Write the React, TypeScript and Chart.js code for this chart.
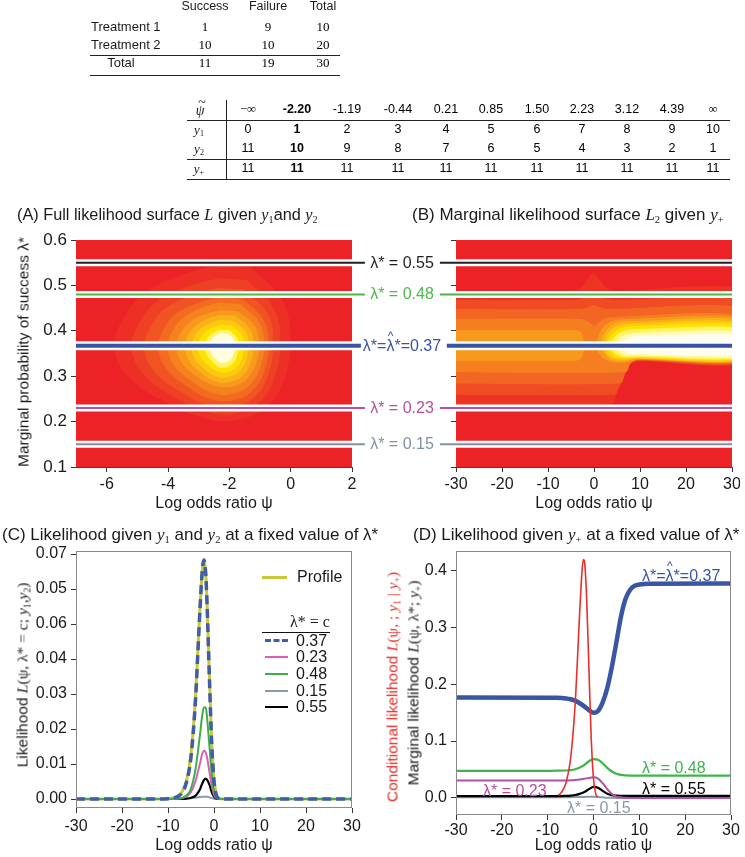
import React, { useEffect, useRef } from 'react';
import { Chart, registerables } from 'chart.js';

Chart.register(...registerables);

const SANS = '"Liberation Sans", Arial, Helvetica, sans-serif';
const SERIF = '"Liberation Serif", "DejaVu Serif", "Times New Roman", serif';
const INK = '#1a1a1a';

type Pt = [number, number];

/* ---------------- tables ---------------- */
const T1_HEADERS = ['Success', 'Failure', 'Total'];
const T1_ROW_LABELS = ['Treatment 1', 'Treatment 2', 'Total'];
const T1_ROW_1 = [1, 9, 10];
const T1_ROW_2 = [10, 10, 20];
const T1_ROW_TOTAL = [11, 19, 30];

const T2_PSI = ['\u2212\u221E', '-2.20', '-1.19', '-0.44', '0.21', '0.85', '1.50', '2.23', '3.12', '4.39', '\u221E'];
const T2_Y1 = [0, 1, 2, 3, 4, 5, 6, 7, 8, 9, 10];
const T2_Y2 = [11, 10, 9, 8, 7, 6, 5, 4, 3, 2, 1];
const T2_YPLUS = [11, 11, 11, 11, 11, 11, 11, 11, 11, 11, 11];
const T2_BOLD_INDEX = 1;

/* ---------------- panels A & B ---------------- */
const A_X_TICKS = [-6, -4, -2, 0, 2];
const A_X_LABELS = ['-6', '-4', '-2', '0', '2'];
const PSI_TICKS = [-30, -20, -10, 0, 10, 20, 30];
const PSI_LABELS = ['-30', '-20', '-10', '0', '10', '20', '30'];
const LAMBDA_TICKS = [0.1, 0.2, 0.3, 0.4, 0.5, 0.6];
const LAMBDA_TICK_LABELS = ['0.1', '0.2', '0.3', '0.4', '0.5', '0.6'];
const LAMBDA_VALUES = [0.55, 0.48, 0.367, 0.23, 0.15];
const LAMBDA_TEXT = ['0.55', '0.48', '0.37', '0.23', '0.15'];
const LAMBDA_COLORS = ['#231F20', '#4DB848', '#3A53A4', '#B5509E', '#8090A6'];

// contour regions of the full likelihood surface (psi, lambda*)
const A_BACKGROUND: Pt[] = [[-8, 0.05], [3, 0.05], [3, 0.65], [-8, 0.65]];
const A_CONTOUR_1: Pt[] = [[-1.3, 0.54], [-0.29, 0.468], [-0.02, 0.387], [-0.19, 0.3], [-0.75, 0.235], [-1.7, 0.205], [-2.8, 0.208], [-4.2, 0.248], [-5.3, 0.3], [-5.73, 0.36], [-5.5, 0.42], [-4.75, 0.483], [-3.35, 0.527], [-2.25, 0.545]];
const A_CONTOUR_2: Pt[] = [[-1.44, 0.512], [-0.58, 0.451], [-0.35, 0.383], [-0.5, 0.306], [-0.97, 0.247], [-1.78, 0.219], [-2.71, 0.222], [-3.89, 0.258], [-4.81, 0.306], [-5.17, 0.36], [-4.98, 0.411], [-4.35, 0.464], [-3.17, 0.501], [-2.25, 0.516]];
const A_CONTOUR_3: Pt[] = [[-1.54, 0.491], [-0.78, 0.439], [-0.58, 0.381], [-0.71, 0.312], [-1.13, 0.258], [-1.84, 0.234], [-2.65, 0.236], [-3.65, 0.269], [-4.45, 0.312], [-4.76, 0.361], [-4.59, 0.404], [-4.05, 0.45], [-3.04, 0.481], [-2.25, 0.494]];
const A_CONTOUR_4: Pt[] = [[-1.6, 0.471], [-0.92, 0.427], [-0.73, 0.378], [-0.85, 0.317], [-1.23, 0.27], [-1.88, 0.248], [-2.58, 0.25], [-3.4, 0.279], [-4.05, 0.317], [-4.3, 0.361], [-4.17, 0.398], [-3.73, 0.437], [-2.9, 0.463], [-2.25, 0.474]];
const A_CONTOUR_5: Pt[] = [[-1.67, 0.459], [-1.05, 0.42], [-0.89, 0.376], [-0.99, 0.323], [-1.34, 0.281], [-1.91, 0.262], [-2.53, 0.264], [-3.23, 0.29], [-3.78, 0.323], [-3.99, 0.361], [-3.88, 0.394], [-3.5, 0.428], [-2.8, 0.452], [-2.25, 0.462]];
const A_CONTOUR_6: Pt[] = [[-1.74, 0.443], [-1.19, 0.411], [-1.05, 0.374], [-1.14, 0.329], [-1.44, 0.294], [-1.95, 0.278], [-2.48, 0.28], [-3.07, 0.301], [-3.53, 0.329], [-3.71, 0.362], [-3.62, 0.389], [-3.3, 0.418], [-2.71, 0.437], [-2.25, 0.445]];
const A_CONTOUR_7: Pt[] = [[-1.81, 0.433], [-1.35, 0.405], [-1.22, 0.373], [-1.3, 0.333], [-1.56, 0.302], [-2.0, 0.288], [-2.44, 0.289], [-2.91, 0.308], [-3.29, 0.333], [-3.43, 0.362], [-3.36, 0.386], [-3.1, 0.41], [-2.62, 0.428], [-2.25, 0.435]];
const A_CONTOUR_8: Pt[] = [[-1.88, 0.422], [-1.49, 0.398], [-1.38, 0.372], [-1.45, 0.338], [-1.67, 0.311], [-2.04, 0.299], [-2.4, 0.3], [-2.8, 0.316], [-3.1, 0.338], [-3.22, 0.362], [-3.16, 0.382], [-2.95, 0.403], [-2.56, 0.418], [-2.25, 0.424]];
const A_CONTOUR_9: Pt[] = [[-1.95, 0.412], [-1.62, 0.392], [-1.54, 0.37], [-1.59, 0.342], [-1.77, 0.32], [-2.07, 0.31], [-2.37, 0.311], [-2.68, 0.325], [-2.92, 0.342], [-3.02, 0.363], [-2.97, 0.379], [-2.8, 0.396], [-2.49, 0.408], [-2.25, 0.413]];
const A_CONTOUR_10: Pt[] = [[-2.02, 0.401], [-1.78, 0.386], [-1.72, 0.369], [-1.76, 0.346], [-1.89, 0.329], [-2.12, 0.32], [-2.34, 0.321], [-2.55, 0.332], [-2.72, 0.346], [-2.79, 0.363], [-2.75, 0.376], [-2.64, 0.389], [-2.42, 0.398], [-2.25, 0.402]];
const A_CONTOUR_11: Pt[] = [[-2.07, 0.394], [-1.88, 0.382], [-1.83, 0.368], [-1.86, 0.351], [-1.97, 0.337], [-2.15, 0.331], [-2.31, 0.331], [-2.47, 0.34], [-2.59, 0.351], [-2.63, 0.364], [-2.61, 0.374], [-2.53, 0.384], [-2.37, 0.392], [-2.25, 0.395]];
const A_CONTOURS = [A_BACKGROUND, A_CONTOUR_1, A_CONTOUR_2, A_CONTOUR_3, A_CONTOUR_4, A_CONTOUR_5, A_CONTOUR_6, A_CONTOUR_7, A_CONTOUR_8, A_CONTOUR_9, A_CONTOUR_10, A_CONTOUR_11];
const A_COLORS = ['#EC2227', '#ED2F25', '#EF3F24', '#F15323', '#F36A21', '#F5821F', '#F8991C', '#FAB017', '#FDC90F', '#FFE300', '#FFF466', '#FFFCE0'];

// contour regions of the marginal likelihood surface (psi, lambda*)
const B_BACKGROUND: Pt[] = [[-35, 0.05], [35, 0.05], [35, 0.65], [-35, 0.65]];
const B_BAND_1: Pt[] = [[-33, 0.487], [-4.6, 0.487], [-2.5, 0.497], [-1.3, 0.515], [-0.2, 0.527], [1, 0.515], [2.3, 0.497], [4.1, 0.487], [33, 0.487], [33, 0.333], [9.5, 0.334], [7.8, 0.326], [6.5, 0.3], [5, 0.265], [3.5, 0.237], [-33, 0.237]];
const B_BAND_2: Pt[] = [[-33, 0.467], [-4, 0.467], [-2, 0.473], [-0.3, 0.487], [1.5, 0.475], [4, 0.467], [33, 0.467], [33, 0.334], [9.5, 0.335], [7.8, 0.327], [6.5, 0.301], [5, 0.268], [4.6, 0.26], [-33, 0.26]];
const B_BAND_3: Pt[] = [[-33, 0.447], [-3, 0.447], [-1, 0.452], [0, 0.456], [1, 0.452], [3, 0.447], [33, 0.447], [33, 0.335], [9.5, 0.336], [7.8, 0.328], [6.5, 0.302], [5.8, 0.285], [-33, 0.285]];
const B_BAND_4: Pt[] = [[-33, 0.425], [-3, 0.425], [-1, 0.418], [0, 0.41], [1, 0.418], [3, 0.428], [33, 0.43], [33, 0.336], [9.5, 0.337], [7.8, 0.329], [6.9, 0.31], [-33, 0.31]];
const B_BAND_5_LEFT: Pt[] = [[-33, 0.4], [-4, 0.4], [-2.8, 0.395], [-2.2, 0.37], [-2.8, 0.34], [-4, 0.335], [-33, 0.335]];
const B_BAND_5_RIGHT: Pt[] = [[0.6, 0.37], [1.2, 0.393], [2.5, 0.412], [4.5, 0.422], [7, 0.425], [33, 0.425], [33, 0.337], [9.5, 0.338], [7, 0.331], [4, 0.332], [2, 0.34], [1, 0.352]];
const B_BAND_6: Pt[] = [[1.5, 0.37], [2.2, 0.392], [3.6, 0.41], [5.5, 0.418], [8, 0.42], [33, 0.42], [33, 0.338], [9.5, 0.339], [6, 0.334], [3.5, 0.338], [2.2, 0.35]];
const B_BAND_7: Pt[] = [[2.2, 0.37], [2.9, 0.39], [4.3, 0.406], [6.2, 0.413], [8.5, 0.415], [33, 0.415], [33, 0.339], [9.5, 0.34], [6, 0.337], [3.8, 0.342], [2.7, 0.353]];
const B_BAND_8: Pt[] = [[2.9, 0.37], [3.6, 0.388], [5, 0.401], [7, 0.408], [9, 0.41], [33, 0.41], [33, 0.341], [9.5, 0.342], [6.2, 0.34], [4.3, 0.345], [3.3, 0.355]];
const B_BAND_9: Pt[] = [[3.7, 0.37], [4.4, 0.385], [5.8, 0.396], [7.8, 0.402], [10, 0.403], [33, 0.403], [33, 0.343], [9.5, 0.344], [6.8, 0.343], [5, 0.348], [4, 0.357]];
const B_BAND_10: Pt[] = [[4.7, 0.37], [5.4, 0.381], [6.8, 0.39], [9, 0.394], [11, 0.395], [33, 0.395], [33, 0.346], [9.5, 0.347], [6.8, 0.347], [5.3, 0.355]];
const B_BAND_11: Pt[] = [[6, 0.368], [6.8, 0.379], [8.3, 0.386], [10.5, 0.388], [33, 0.388], [33, 0.35], [10, 0.35], [7.6, 0.352], [6.5, 0.358]];
const B_BANDS = [B_BACKGROUND, B_BAND_1, B_BAND_2, B_BAND_3, B_BAND_4, B_BAND_5_LEFT, B_BAND_5_RIGHT, B_BAND_6, B_BAND_7, B_BAND_8, B_BAND_9, B_BAND_10, B_BAND_11];
const B_COLORS = ['#EC2227', '#ED3324', '#F04B23', '#F26522', '#F57E20', '#F8981C', '#F8981C', '#FAB017', '#FDC90F', '#FFE300', '#FFF466', '#FFFAB8', '#FFFEF0'];

/* ---------------- panel C ---------------- */
const C_PSI = [-30, -12, -10, -9, -8, -7, -6, -5, -4, -3.5, -3, -2.6, -2.2, -1.8, -1.5, -1, -0.5, 0, 0.5, 1, 1.5, 2, 30];
const C_PROFILE = [0, 0.00002, 0.0001, 0.00027, 0.0007, 0.0019, 0.0051, 0.0128, 0.0296, 0.0428, 0.0558, 0.0645, 0.0683, 0.0645, 0.0556, 0.0352, 0.0165, 0.0056, 0.0013, 0.00025, 0.00004, 0, 0];
const C_L037 = [0, 0.00001, 0.00009, 0.00024, 0.00064, 0.0017, 0.0047, 0.012, 0.0287, 0.042, 0.0553, 0.0643, 0.0683, 0.0643, 0.0553, 0.0345, 0.0158, 0.0051, 0.0011, 0.0002, 0.00003, 0, 0];
const C_L023 = [0, 0, 0.00001, 0.00004, 0.0001, 0.00028, 0.00075, 0.002, 0.0052, 0.0078, 0.0104, 0.0127, 0.0138, 0.0133, 0.0118, 0.0079, 0.0039, 0.0012, 0.0003, 0.00006, 0, 0, 0];
const C_L048 = [0, 0, 0.00001, 0.00003, 0.0001, 0.0003, 0.001, 0.003, 0.0087, 0.0135, 0.0189, 0.0235, 0.0261, 0.0262, 0.0232, 0.0152, 0.0072, 0.0023, 0.0005, 0.0001, 0, 0, 0];
const C_L015 = [0, 0, 0, 0, 0.00001, 0.00003, 0.00008, 0.0002, 0.00038, 0.00048, 0.00058, 0.00065, 0.00068, 0.00067, 0.00062, 0.00046, 0.00025, 0.0001, 0.00002, 0, 0, 0, 0];
const C_L055 = [0, 0, 0, 0, 0.00001, 0.00004, 0.00012, 0.00035, 0.00095, 0.0018, 0.0029, 0.0043, 0.0054, 0.0058, 0.0055, 0.0041, 0.002, 0.00066, 0.00015, 0.00003, 0, 0, 0];
const C_Y_TICKS = [0, 0.01, 0.02, 0.03, 0.04, 0.05, 0.06, 0.07];
const C_Y_TICK_LABELS = ['0.00', '0.01', '0.02', '0.03', '0.04', '0.06', '0.05', '0.07'];
const C_LEGEND_LAMBDAS = ['0.37', '0.23', '0.48', '0.15', '0.55'];

/* ---------------- panel D ---------------- */
const D_PSI = [-30, -10, -8, -6, -5, -4, -3, -2, -1, 0, 1, 2, 3, 4, 5, 6, 7, 8, 9, 10, 12, 30];
const D_L037 = [0.1764, 0.1763, 0.176, 0.1748, 0.1735, 0.171, 0.1665, 0.161, 0.1545, 0.1497, 0.153, 0.168, 0.193, 0.23, 0.274, 0.319, 0.35, 0.366, 0.373, 0.375, 0.3765, 0.377];
const D_L048 = [0.0478, 0.0478, 0.0479, 0.0483, 0.049, 0.0505, 0.0535, 0.058, 0.0645, 0.0684, 0.067, 0.061, 0.053, 0.0465, 0.0425, 0.0405, 0.0397, 0.0394, 0.0393, 0.0392, 0.0392, 0.0392];
const D_L023 = [0.0307, 0.0307, 0.0307, 0.0309, 0.0311, 0.0316, 0.0325, 0.0338, 0.0353, 0.0363, 0.034, 0.026, 0.0155, 0.007, 0.0025, 0.0008, 0.0002, 0, 0, 0, 0, 0];
const D_L055 = [0.0031, 0.0031, 0.0032, 0.0036, 0.0042, 0.0052, 0.0072, 0.0105, 0.0155, 0.0196, 0.018, 0.0125, 0.0075, 0.005, 0.0042, 0.0039, 0.0038, 0.0037, 0.0037, 0.0037, 0.0037, 0.0037];
const D_L015 = [0.0013, 0.0013, 0.0013, 0.0014, 0.0015, 0.0016, 0.0017, 0.0019, 0.002, 0.00215, 0.0018, 0.0011, 0.0005, 0.0002, 0.00005, 0, 0, 0, 0, 0, 0, 0];
const D_COND_PSI = [-7.6, -7, -6, -5, -4, -3, -2.5, -2.2, -2, -1.5, -1, -0.5, 0, 0.5, 0.9];
const D_COND = [0.005, 0.0099, 0.0265, 0.069, 0.1655, 0.328, 0.399, 0.419, 0.417, 0.352, 0.227, 0.1055, 0.0338, 0.0073, 0.002];
const D_Y_TICKS = [0, 0.1, 0.2, 0.3, 0.4];
const D_Y_TICK_LABELS = ['0.0', '0.1', '0.2', '0.3', '0.4'];

/* ---------------- helpers ---------------- */
const toXY = (xs: number[], ys: number[]) => xs.map((x, i) => ({ x, y: ys[i] }));
const ptsXY = (pts: Pt[]) => pts.map((p) => ({ x: p[0], y: p[1] }));

function axis(o: any) {
  return {
    type: 'linear',
    min: o.min,
    max: o.max,
    afterBuildTicks: (s: any) => {
      s.ticks = o.ticks.map((v: number) => ({ value: v }));
    },
    afterFit: (s: any) => {
      if (o.isX) s.height = o.size;
      else s.width = o.size;
      s.paddingLeft = 0;
      s.paddingRight = 0;
      s.paddingTop = 0;
      s.paddingBottom = 0;
    },
    ticks: {
      callback: (_v: any, i: number) => (o.labels ? o.labels[i] : ''),
      font: { family: SANS, size: o.font || 16 },
      color: INK,
      padding: o.pad,
      maxRotation: 0,
      minRotation: 0,
      autoSkip: false,
    },
    grid: { display: true, drawOnChartArea: false, drawTicks: true, tickLength: 5, color: '#333', lineWidth: 1 },
    border: { display: !!o.border, color: '#444', width: 1 },
    title: o.title
      ? { display: true, text: o.title, font: { family: SANS, size: 16 }, color: INK, padding: { top: 0, bottom: o.titlePad || 0 } }
      : { display: false },
  };
}

const framePlugin = {
  id: 'frame',
  afterDraw(chart: any) {
    const a = chart.chartArea;
    const ctx = chart.ctx;
    ctx.save();
    ctx.strokeStyle = '#8a8a8a';
    ctx.lineWidth = 1;
    ctx.strokeRect(Math.round(a.left) + 0.5, Math.round(a.top) + 0.5, Math.round(a.right - a.left) - 1, Math.round(a.bottom - a.top) - 1);
    ctx.restore();
  },
};

function baseOptions(pad: any, scales: any) {
  return {
    animation: false,
    responsive: false,
    events: [],
    layout: { padding: pad },
    plugins: { legend: { display: false }, tooltip: { enabled: false }, title: { display: false } },
    scales,
  };
}

function polyDataset(pts: Pt[], color: string, order: number, tension: number) {
  return {
    data: ptsXY(pts),
    fill: 'shape',
    backgroundColor: color,
    borderColor: color,
    borderWidth: 1,
    pointRadius: 0,
    tension,
    order,
  };
}

function lambdaLines(xFrom: number, xTo: number, xStart: number[], xEnd: number[]) {
  const out: any[] = [];
  LAMBDA_VALUES.forEach((lam, i) => {
    const blue = i === 2;
    out.push({
      data: [{ x: xFrom, y: lam }, { x: xTo, y: lam }],
      borderColor: '#ffffff',
      borderWidth: blue ? 9 : 7,
      pointRadius: 0,
      fill: false,
      order: -1,
    });
    out.push({
      data: [{ x: xStart[i], y: lam }, { x: xEnd[i], y: lam }],
      borderColor: LAMBDA_COLORS[i],
      borderWidth: blue ? 4 : 2,
      pointRadius: 0,
      fill: false,
      order: -2,
      clip: false,
    });
  });
  return out;
}

function makeA() {
  const datasets: any[] = A_CONTOURS.map((pts, k) => polyDataset(pts, A_COLORS[k], 100 - k, k === 0 ? 0 : 0.4));
  datasets.push(...lambdaLines(-7, 2, [-7, -7, -7, -7, -7], [2.42, 2.42, 2.29, 2.42, 2.42]));
  return {
    type: 'line',
    data: { datasets },
    options: baseOptions({ left: 0, right: 23, top: 10, bottom: 0 }, {
      x: axis({ min: -7, max: 2, ticks: A_X_TICKS, labels: A_X_LABELS, size: 46, isX: true, pad: 3, font: 16, title: 'Log odds ratio \u03C8', border: true }),
      y: axis({ min: 0.1, max: 0.6, ticks: LAMBDA_TICKS, labels: LAMBDA_TICK_LABELS, size: 46, isX: false, pad: 4, font: 17, border: true }),
    }),
  };
}

function makeB() {
  const datasets: any[] = B_BANDS.map((pts, k) => polyDataset(pts, B_COLORS[k], 100 - k, k === 0 ? 0 : 0.25));
  datasets.push(...lambdaLines(-30, 30, [-33.5, -33.5, -32, -33.5, -33.5], [30, 30, 30, 30, 30]));
  return {
    type: 'line',
    data: { datasets },
    options: baseOptions({ left: 0, right: 8, top: 10, bottom: 0 }, {
      x: axis({ min: -30, max: 30, ticks: PSI_TICKS, labels: PSI_LABELS, size: 46, isX: true, pad: 3, font: 16, title: 'Log odds ratio \u03C8', border: true }),
      y: axis({ min: 0.1, max: 0.6, ticks: LAMBDA_TICKS, labels: null, size: 20, isX: false, pad: 0, font: 16, border: true }),
    }),
  };
}

function curve(xs: number[], ys: number[], color: string, width: number, order: number, extra: any = {}) {
  return {
    data: toXY(xs, ys),
    borderColor: color,
    borderWidth: width,
    pointRadius: 0,
    fill: false,
    cubicInterpolationMode: 'monotone',
    order,
    ...extra,
  };
}

function makeC() {
  const datasets = [
    curve(C_PSI, C_PROFILE, '#C9C83A', 3, 6),
    curve(C_PSI, C_L015, '#8C9AAE', 2, 5),
    curve(C_PSI, C_L055, '#000000', 2.2, 4),
    curve(C_PSI, C_L023, '#D85FB6', 2, 3),
    curve(C_PSI, C_L048, '#3DAE4A', 2, 2),
    curve(C_PSI, C_L037, '#3F5DAB', 3.5, 1, { borderDash: [9, 5] }),
  ];
  return {
    type: 'line',
    data: { datasets },
    options: baseOptions({ left: 0, right: 13, top: 11, bottom: 0 }, {
      x: axis({ min: -30, max: 30, ticks: PSI_TICKS, labels: PSI_LABELS, size: 49, isX: true, pad: 4, font: 16, title: 'Log odds ratio \u03C8', titlePad: 2 }),
      y: axis({ min: -0.00257, max: 0.07086, ticks: C_Y_TICKS, labels: C_Y_TICK_LABELS, size: 56, isX: false, pad: 4, font: 16 }),
    }),
    plugins: [framePlugin],
  };
}

function makeD() {
  const datasets = [
    curve(D_PSI, D_L015, '#8A98AC', 2, 6),
    curve(D_PSI, D_L055, '#000000', 2.2, 5),
    curve(D_PSI, D_L023, '#B34FA6', 2, 4),
    curve(D_PSI, D_L048, '#3DB54A', 2.2, 3),
    curve(D_PSI, D_L037, '#3A55A4', 4.5, 2),
    curve(D_COND_PSI, D_COND, '#E8302A', 1.6, 1),
  ];
  return {
    type: 'line',
    data: { datasets },
    options: baseOptions({ left: 0, right: 14, top: 11, bottom: 0 }, {
      x: axis({ min: -30, max: 30, ticks: PSI_TICKS, labels: PSI_LABELS, size: 42, isX: true, pad: 1, font: 16, title: 'Log odds ratio \u03C8', titlePad: 2 }),
      y: axis({ min: -0.0299, max: 0.434, ticks: D_Y_TICKS, labels: D_Y_TICK_LABELS, size: 40, isX: false, pad: 4, font: 16 }),
    }),
    plugins: [framePlugin],
  };
}

/* ---------------- React pieces ---------------- */
function ChartBox({ x, y, w, h, make }: { x: number; y: number; w: number; h: number; make: () => any }) {
  const ref = useRef<HTMLCanvasElement>(null);
  useEffect(() => {
    const chart = new Chart(ref.current as HTMLCanvasElement, make() as any);
    return () => chart.destroy();
  }, []);
  return <canvas ref={ref} width={w} height={h} style={{ position: 'absolute', left: x, top: y, width: w, height: h }} />;
}

function Txt({ x, y, anchor = 'middle', rotate = false, style = {}, children }: any) {
  const tx = anchor === 'start' ? '0' : anchor === 'end' ? '-100%' : '-50%';
  return (
    <div
      style={{
        position: 'absolute',
        left: x,
        top: y,
        transform: `translate(${tx}, -50%)${rotate ? ' rotate(-90deg)' : ''}`,
        willChange: 'transform',
        whiteSpace: 'nowrap',
        lineHeight: 1.1,
        fontWeight: 'normal',
        ...style,
      }}
    >
      {children}
    </div>
  );
}

const Mi = ({ children }: any) => <span style={{ fontFamily: SERIF, fontStyle: 'italic' }}>{children}</span>;
const Mr = ({ children }: any) => <span style={{ fontFamily: SERIF }}>{children}</span>;
const Sub = ({ children }: any) => (
  <span style={{ fontSize: '0.62em', position: 'relative', top: '0.3em', fontFamily: SERIF }}>{children}</span>
);
const Hat = () => (
  <span style={{ position: 'relative', display: 'inline-block' }}>
    {'\u03BB'}
    <span style={{ position: 'absolute', left: '0.12em', top: '-0.62em', fontSize: '0.75em' }}>^</span>
  </span>
);
const PsiTilde = () => (
  <span style={{ position: 'relative', display: 'inline-block', fontFamily: SERIF, fontStyle: 'italic' }}>
    {'\u03C8'}
    <span style={{ position: 'absolute', left: '0.18em', top: '-0.55em', fontStyle: 'normal' }}>~</span>
  </span>
);

const HLine = ({ x, y, w, color = '#222', h = 1 }: any) => (
  <div style={{ position: 'absolute', left: x, top: y, width: w, height: h, background: color }} />
);

const lamY = (lam: number) => 467 - (lam - 0.1) * 454;

export default function App() {
  const t1Cols = [205, 268, 323];
  const t1Rows = [27, 45, 63];
  const t2Cols = [248, 297, 347, 398, 446, 491, 537, 582, 627, 672, 713];
  const t2Rows = [110, 130, 149, 169];
  const t1Data = [T1_ROW_1, T1_ROW_2, T1_ROW_TOTAL];
  const t2Data = [T2_Y1, T2_Y2, T2_YPLUS];
  const legendY = [641, 657, 674, 691, 707];
  const legendStyles = [
    { color: '#3F5DAB', dashed: true, h: 3.5 },
    { color: '#D85FB6', dashed: false, h: 2 },
    { color: '#3DAE4A', dashed: false, h: 2 },
    { color: '#8C9AAE', dashed: false, h: 2 },
    { color: '#000000', dashed: false, h: 2.2 },
  ];
  const fs = 16;

  return (
    <div style={{ position: 'absolute', left: 0, top: 0, width: 745, height: 857, background: '#fff', fontFamily: SANS, color: INK, overflow: 'hidden' }}>
      {/* ---- table 1 ---- */}
      {T1_HEADERS.map((h, i) => (
        <Txt key={'h' + i} x={t1Cols[i]} y={7} style={{ fontSize: 12.5 }}>{h}</Txt>
      ))}
      {T1_ROW_LABELS.map((r, j) => (
        <Txt key={'r' + j} x={j === 2 ? 121 : 91} y={t1Rows[j]} anchor={j === 2 ? 'middle' : 'start'} style={{ fontSize: 13 }}>{r}</Txt>
      ))}
      {t1Data.map((row, j) =>
        row.map((v, i) => (
          <Txt key={'v' + j + i} x={t1Cols[i]} y={t1Rows[j]} style={{ fontSize: 13, fontFamily: SERIF, color: '#000' }}>{String(v)}</Txt>
        ))
      )}
      <HLine x={90} y={55} w={250} />
      <HLine x={90} y={75} w={250} />

      {/* ---- table 2 ---- */}
      <Txt x={200} y={t2Rows[0] + 1} style={{ fontSize: 14 }}><PsiTilde /></Txt>
      <Txt x={199} y={t2Rows[1]} style={{ fontSize: 13 }}><Mi>y</Mi><Sub>1</Sub></Txt>
      <Txt x={199} y={t2Rows[2]} style={{ fontSize: 13 }}><Mi>y</Mi><Sub>2</Sub></Txt>
      <Txt x={199} y={t2Rows[3]} style={{ fontSize: 13 }}><Mi>y</Mi><Sub>+</Sub></Txt>
      {T2_PSI.map((p, i) => (
        <Txt key={'p' + i} x={t2Cols[i]} y={t2Rows[0]} style={{ fontSize: 12.5, color: '#000', fontWeight: i === T2_BOLD_INDEX ? 'bold' : 'normal', fontFamily: i === 0 || i === 10 ? SERIF : SANS }}>{p}</Txt>
      ))}
      {t2Data.map((row, j) =>
        row.map((v, i) => (
          <Txt key={'q' + j + i} x={t2Cols[i]} y={t2Rows[j + 1]} style={{ fontSize: 12.5, color: '#000', fontWeight: i === T2_BOLD_INDEX ? 'bold' : 'normal' }}>{String(v)}</Txt>
        ))
      )}
      <HLine x={187} y={120} w={543} />
      <HLine x={187} y={159} w={543} />
      <HLine x={187} y={179} w={543} />
      <div style={{ position: 'absolute', left: 226, top: 100, width: 1, height: 80, background: '#222' }} />

      {/* ---- charts ---- */}
      <ChartBox x={30} y={230} w={345} h={283} make={makeA} />
      <ChartBox x={436} y={230} w={304} h={283} make={makeB} />
      <ChartBox x={20} y={540} w={345} h={317} make={makeC} />
      <ChartBox x={416} y={540} w={329} h={317} make={makeD} />

      {/* ---- titles ---- */}
      <Txt x={17} y={215} anchor="start" style={{ fontSize: 16.3 }}>
        (A) Full likelihood surface <Mi>L</Mi> given <Mi>y</Mi><Sub>1</Sub>and <Mi>y</Mi><Sub>2</Sub>
      </Txt>
      <Txt x={412} y={215} anchor="start" style={{ fontSize: 17 }}>
        (B) Marginal likelihood surface <Mi>L</Mi><Sub>2</Sub> given <Mi>y</Mi><Sub>+</Sub>
      </Txt>
      <Txt x={2} y={535} anchor="start" style={{ fontSize: 17 }}>
        (C) Likelihood given <Mi>y</Mi><Sub>1</Sub> and <Mi>y</Mi><Sub>2</Sub> at a fixed value of {'\u03BB*'}
      </Txt>
      <Txt x={413} y={535} anchor="start" style={{ fontSize: 17 }}>
        (D) Likelihood given <Mi>y</Mi><Sub>+</Sub> at a fixed value of {'\u03BB*'}
      </Txt>

      {/* ---- y-axis titles ---- */}
      <Txt x={23} y={352} rotate style={{ fontSize: 15.5 }}>Marginal probability of success {'\u03BB*'}</Txt>
      <Txt x={22} y={675} rotate style={{ fontSize: 15.5 }}>
        Likelihood <Mi>L</Mi><Mr>({'\u03C8'}, {'\u03BB*'} = c; </Mr><Mi>y</Mi><Sub>1</Sub><Mr>,</Mr><Mi>y</Mi><Sub>2</Sub><Mr>)</Mr>
      </Txt>
      <Txt x={392} y={687} rotate style={{ fontSize: 15.5, color: '#E8302A' }}>
        Conditional likelihood <Mi>L</Mi><Mr>({'\u03C8'}, ; </Mr><Mi>y</Mi><Sub>1</Sub><Mr> | </Mr><Mi>y</Mi><Sub>+</Sub><Mr>)</Mr>
      </Txt>
      <Txt x={413} y={683} rotate style={{ fontSize: 15.5, color: '#1a1a1a' }}>
        Marginal likelihood <Mi>L</Mi><Mr>({'\u03C8'}, {'\u03BB*'}; </Mr><Mi>y</Mi><Sub>+</Sub><Mr>)</Mr>
      </Txt>

      {/* ---- lambda labels between A and B ---- */}
      {LAMBDA_VALUES.map((lam, i) => (
        <Txt key={'l' + i} x={402} y={lamY(lam)} style={{ fontSize: fs, color: LAMBDA_COLORS[i], background: '#fff', padding: '0 2px' }}>
          {i === 2 ? (
            <span>{'\u03BB*='}<Hat />{'*=0.37'}</span>
          ) : (
            <span>{'\u03BB* = ' + LAMBDA_TEXT[i]}</span>
          )}
        </Txt>
      ))}

      {/* ---- legend C ---- */}
      <HLine x={262} y={576} w={25} h={3} color="#C9C83A" />
      <Txt x={297} y={577} anchor="start" style={{ fontSize: fs }}>Profile</Txt>
      <Txt x={310} y={622} style={{ fontSize: 16, fontFamily: SERIF }}>{'\u03BB* = c'}</Txt>
      <HLine x={262} y={632} w={68} h={1} color="#111" />
      {C_LEGEND_LAMBDAS.map((lab, i) => (
        <React.Fragment key={'lg' + i}>
          <div
            style={{
              position: 'absolute',
              left: 265,
              top: legendY[i] - legendStyles[i].h / 2,
              width: 23,
              height: 0,
              borderTop: `${legendStyles[i].h}px ${legendStyles[i].dashed ? 'dashed' : 'solid'} ${legendStyles[i].color}`,
            }}
          />
          <Txt x={296} y={legendY[i]} anchor="start" style={{ fontSize: fs }}>{lab}</Txt>
        </React.Fragment>
      ))}

      {/* ---- labels D ---- */}
      <Txt x={642} y={576} anchor="start" style={{ fontSize: fs, color: '#3A55A4' }}>
        {'\u03BB*='}<Hat />{'*=0.37'}
      </Txt>
      <Txt x={642} y={768} anchor="start" style={{ fontSize: fs, color: '#3DB54A' }}>{'\u03BB* = 0.48'}</Txt>
      <Txt x={642} y={789} anchor="start" style={{ fontSize: fs, color: '#000' }}>{'\u03BB* = 0.55'}</Txt>
      <Txt x={483} y={791} anchor="start" style={{ fontSize: fs, color: '#B34FA6' }}>{'\u03BB* = 0.23'}</Txt>
      <Txt x={567} y={808} anchor="start" style={{ fontSize: fs, color: '#8A98AC' }}>{'\u03BB* = 0.15'}</Txt>
    </div>
  );
}
